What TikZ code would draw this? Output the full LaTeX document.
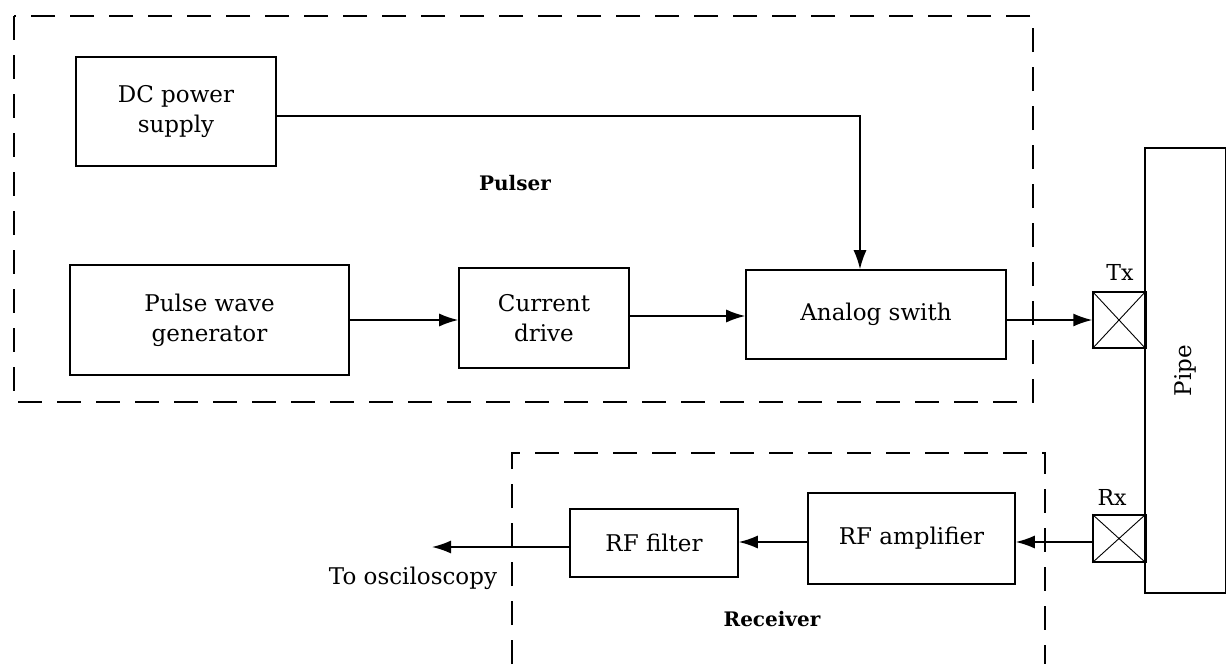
\documentclass[tikz,border=0pt]{standalone}
\usepackage{fontspec}
\setmainfont{DejaVu Serif}
\usetikzlibrary{arrows.meta}
\begin{document}
\begin{tikzpicture}[x=1pt,y=-1pt,
  blk/.style={draw, line width=1.6pt, inner sep=0pt, align=center, font=\fontsize{23}{30}\selectfont},
  grp/.style={draw, line width=1.6pt, dash pattern=on 24pt off 15pt},
  lbl/.style={font=\fontsize{23}{28}\selectfont},
  bl/.style={font=\fontsize{20}{24}\selectfont\bfseries},
  conn/.style={line width=1.5pt, -{Latex[length=19pt,width=13pt]}},
  xd/.style={draw, line width=1.5pt, inner sep=0pt}]
\useasboundingbox (0,0) rectangle (1226,664);
% group boxes
\draw[grp] (14,16) rectangle (1033,402);
\draw[grp] (512,664) -- (512,453) -- (1045,453) -- (1045,664);
\node[bl] (pulser) at (515,183) {Pulser};
\node[bl] (receiver) at (772,619) {Receiver};
% blocks
\node[blk, minimum width=200pt, minimum height=109pt] (dc) at (176,111.5) {DC power\\supply};
\node[blk, minimum width=279pt, minimum height=110pt] (pwg) at (209.5,320) {Pulse wave\\generator};
\node[blk, minimum width=170pt, minimum height=100pt] (cd) at (544,318) {Current\\drive};
\node[blk, minimum width=260pt, minimum height=89pt] (as) at (876,314.5) {Analog swith};
\node[blk, minimum width=207pt, minimum height=91pt] (rfa) at (911.5,538.5) {RF amplifier};
\node[blk, minimum width=168pt, minimum height=68pt] (rff) at (654,543) {RF filter};
% pipe
\node[blk, minimum width=81pt, minimum height=445pt] (pipe) at (1185.5,370.5) {};
\node[lbl, rotate=90] (pipelbl) at (pipe.center) {Pipe};
% transducers
\node[xd, minimum width=52pt, minimum height=56pt] (tx) at (1119,320) {};
\draw[line width=0.9pt] (tx.north west) -- (tx.south east) (tx.north east) -- (tx.south west);
\draw[line width=3pt] (tx.north east) -- (tx.south east);
\node[lbl, font=\fontsize{22}{26}\selectfont] (txl) at (1120,272) {Tx};
\node[xd, minimum width=52pt, minimum height=47pt] (rx) at (1119,538.5) {};
\draw[line width=0.9pt] (rx.north west) -- (rx.south east) (rx.north east) -- (rx.south west);
\draw[line width=3pt] (rx.north east) -- (rx.south east);
\node[lbl, font=\fontsize{22}{26}\selectfont] (rxl) at (1112,497) {Rx};
% connectors
\draw[conn] (dc.east |- 0,116) -| (860,0 |- as.north);
\draw[conn] (pwg.east |- 0,320) -- (cd.west |- 0,320);
\draw[conn] (cd.east |- 0,316) -- (as.west |- 0,316);
\draw[conn] (as.east |- 0,320) -- (tx.west |- 0,320);
\draw[conn] (rx.west |- 0,542) -- (rfa.east |- 0,542);
\draw[conn] (rfa.west |- 0,542) -- (rff.east |- 0,542);
\coordinate (osc) at (432,547);
\draw[conn] (rff.west |- osc) -- (osc);
\node[lbl] (osctext) at (413,578) {To osciloscopy};
\end{tikzpicture}
\end{document}
